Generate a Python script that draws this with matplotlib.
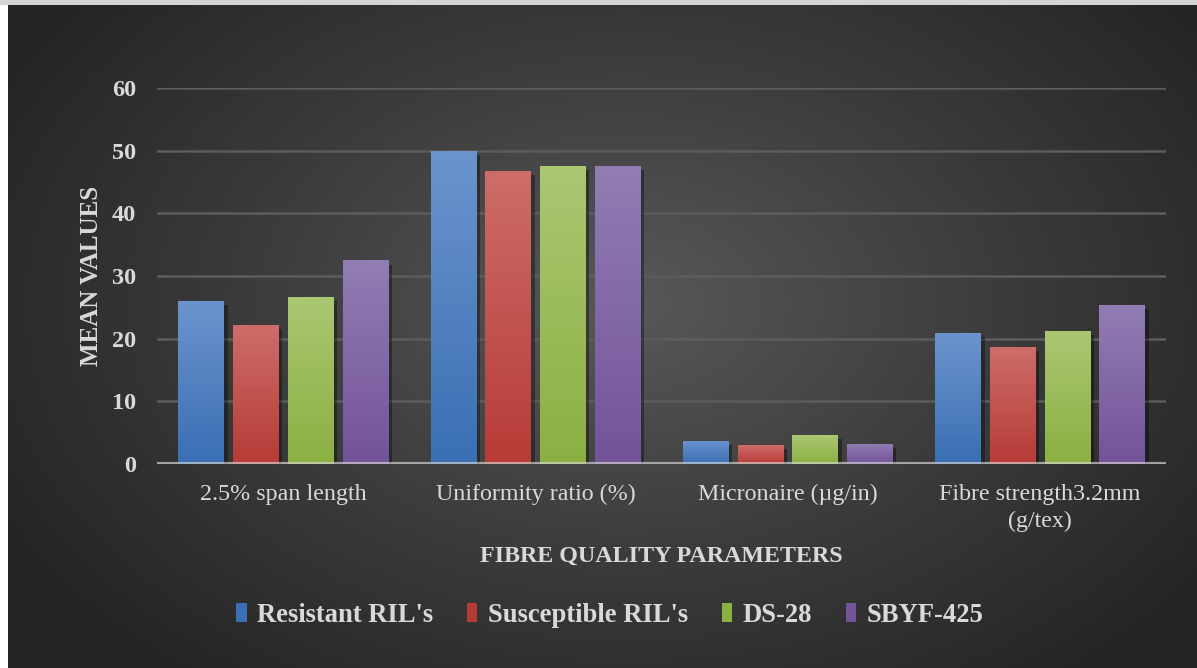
import numpy as np
import matplotlib
matplotlib.use("Agg")
import matplotlib.pyplot as plt
import matplotlib.patheffects as pe
from matplotlib.patches import Patch, Rectangle
from matplotlib.colors import LinearSegmentedColormap

# Fibre quality means per genotype group
categories = ["2.5% span length", "Uniformity ratio (%)", "Micronaire (µg/in)",
              "Fibre strength3.2mm\n(g/tex)"]
series_names = ["Resistant RIL's", "Susceptible RIL's", "DS-28", "SBYF-425"]
resistant = [26.0, 49.9, 3.7, 20.9]
susceptible = [22.2, 46.8, 3.0, 18.7]
ds28 = [26.6, 47.5, 4.6, 21.2]
sbyf425 = [32.5, 47.6, 3.2, 25.4]
y_ticks = [0, 10, 20, 30, 40, 50, 60]

# top / bottom shades for the bar gradients
shades = [("#6b94cd", "#3a6fb4"), ("#cd6d69", "#b73b37"),
          ("#aac772", "#8bb042"), ("#927db4", "#735399")]
text_col = "#d9d9d9"
serif = ["Liberation Serif", "DejaVu Serif"]

plt.rcParams["font.family"] = serif

W, H = 1197, 668
fig = plt.figure(figsize=(W / 100, H / 100), dpi=100, facecolor="white")

# radial dark background
bg = fig.add_axes([8 / W, 0, 1 - 8 / W, 663 / H], zorder=-2)
gx, gy = np.meshgrid(np.linspace(0, 1, 400), np.linspace(0, 1, 240))
r = np.sqrt(((gx - 0.52) / 0.62) ** 2 + ((gy - 0.55) / 0.75) ** 2)
r = np.clip(r, 0, 1)
bg_cmap = LinearSegmentedColormap.from_list("bg", ["#585858", "#3c3c3c", "#232323"])
bg.imshow(r, cmap=bg_cmap, aspect="auto", extent=[0, 1, 0, 1], origin="lower")
bg.set_axis_off()
fig.patches.append(Rectangle((0, 663 / H), 1, 5 / H, transform=fig.transFigure,
                             facecolor="#d4d4d4", edgecolor="none", zorder=-1))

ax = fig.add_axes([157 / W, 204 / H, 1009 / W, 376 / H])
ax.set_facecolor("none")

values = [resistant, susceptible, ds28, sbyf425]
x = np.arange(len(categories))
step = 0.217
width = 0.179
for i, vals in enumerate(values):
    bars = ax.bar(x + (i - 1.5) * step, vals, width, color=shades[i][1], zorder=3,
                  path_effects=[pe.SimplePatchShadow(offset=(3, -3), shadow_rgbFace="black",
                                                     alpha=0.35), pe.Normal()])
    cmap = LinearSegmentedColormap.from_list(f"g{i}", [shades[i][1], shades[i][0]])
    grad = np.linspace(0, 1, 100).reshape(-1, 1)
    for b in bars:
        x0, y0 = b.get_x(), b.get_y()
        im = ax.imshow(grad, cmap=cmap, aspect="auto", origin="lower", zorder=3.5,
                       extent=[x0, x0 + b.get_width(), y0, y0 + b.get_height()])
        im.set_clip_path(b)

ax.set_xlim(-0.5, len(categories) - 0.5)
ax.set_ylim(0, 60)
ax.set_yticks(y_ticks)
ax.set_yticklabels([str(t) for t in y_ticks], fontsize=17.5, fontweight="bold", color=text_col)
ax.set_xticks(x)
ax.set_xticklabels(categories, fontsize=17.3, color=text_col, linespacing=1.35)
ax.tick_params(axis="y", length=0, pad=15)
ax.tick_params(axis="x", length=0, pad=14.5)
for s in ax.spines.values():
    s.set_visible(False)
ax.yaxis.grid(True, color="#5c5c5c", linewidth=1.8, zorder=0)
ax.set_axisbelow(True)
ax.axhline(0, color="#d6d6d6", alpha=0.65, linewidth=3, zorder=5,
           path_effects=[pe.SimpleLineShadow(offset=(0, -2.5), alpha=0.5), pe.Normal()])

ax.set_xlabel("FIBRE QUALITY PARAMETERS", fontsize=17.3, fontweight="bold",
              color=text_col, va="center")
ax.xaxis.set_label_coords(0.5, (112 - 204) / 376)
ax.set_ylabel("MEAN VALUES", fontsize=18, fontweight="bold", color=text_col, va="center")
ax.yaxis.set_label_coords((91 - 157) / 1009, 0.5)

handles = [Patch(facecolor=c[1], edgecolor="none") for c in shades]
leg = fig.legend(handles, series_names, loc="center", ncol=4,
                 bbox_to_anchor=(610 / W, 1 - 615 / H), frameon=False,
                 prop={"family": serif, "size": 19.2, "weight": "bold"},
                 handlelength=0.4, handleheight=0.7, handletextpad=0.4,
                 columnspacing=1.25)
for t in leg.get_texts():
    t.set_color(text_col)

fig.savefig("out.png", dpi=100)
